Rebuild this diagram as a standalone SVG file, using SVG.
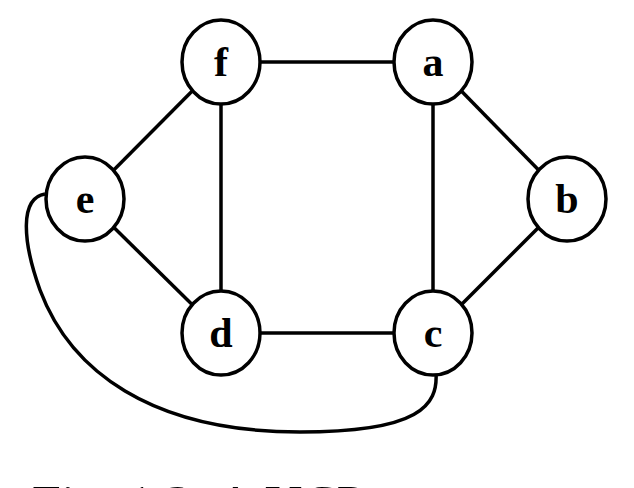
<svg xmlns="http://www.w3.org/2000/svg" width="634" height="488" viewBox="0 0 634 488">
<style>
.n ellipse{fill:#fff;stroke:#000;stroke-width:3.5}
.n text{font-family:"Liberation Serif",serif;font-weight:bold;font-size:42px;text-anchor:middle}
#edges line,#edges path{stroke:#000;stroke-width:3.5;fill:none}
</style>
<rect width="634" height="488" fill="#fff"/>
<g id="edges">
<line x1="221" y1="62" x2="433" y2="62"/>
<line x1="221" y1="62" x2="221" y2="333"/>
<line x1="433" y1="62" x2="433" y2="333"/>
<line x1="221" y1="333" x2="433" y2="333"/>
<line x1="85" y1="199" x2="221" y2="62"/>
<line x1="85" y1="199" x2="221" y2="333"/>
<line x1="433" y1="62" x2="567" y2="199"/>
<line x1="433" y1="333" x2="567" y2="199"/>
<path d="M45,194 C20,198 22,240 40,290 C70,370 150,432 300,432 C420,432 438,405 436,373"/>
</g>
<g id="f" class="n"><ellipse cx="221" cy="62" rx="39" ry="42"/><text x="221" y="76">f</text></g>
<g id="a" class="n"><ellipse cx="433" cy="62" rx="39" ry="42"/><text x="433" y="76">a</text></g>
<g id="e" class="n"><ellipse cx="85" cy="199" rx="39" ry="42"/><text x="85" y="213">e</text></g>
<g id="b" class="n"><ellipse cx="567" cy="199" rx="39" ry="42"/><text x="567" y="213">b</text></g>
<g id="d" class="n"><ellipse cx="221" cy="333" rx="39" ry="42"/><text x="221" y="347">d</text></g>
<g id="c" class="n"><ellipse cx="433" cy="333" rx="39" ry="42"/><text x="433" y="347">c</text></g>
<text x="32" y="522" font-family="Liberation Serif,serif" font-size="52">Fig. 1.3: A UCP</text>
</svg>
